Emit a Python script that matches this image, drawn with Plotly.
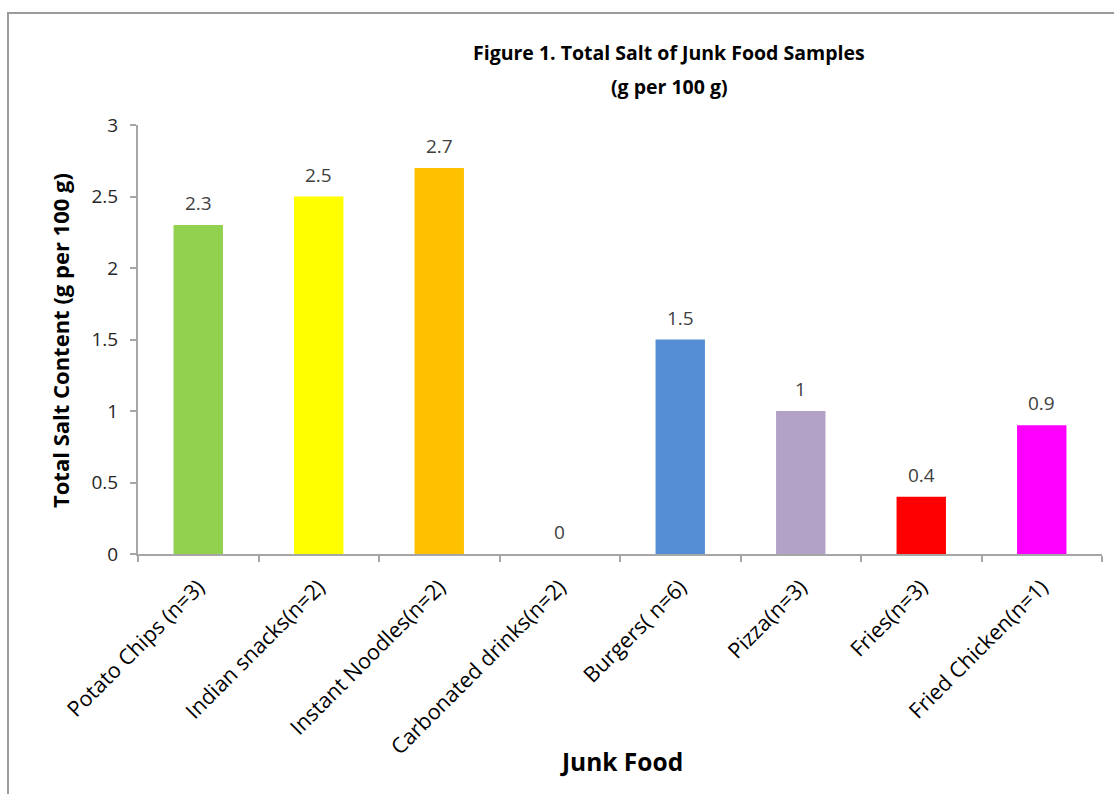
import plotly.graph_objects as go

# Junk food categories and their mean total salt content
foods = [
    "Potato Chips (n=3)",
    "Indian snacks(n=2)",
    "Instant Noodles(n=2)",
    "Carbonated drinks(n=2)",
    "Burgers( n=6)",
    "Pizza(n=3)",
    "Fries(n=3)",
    "Fried Chicken(n=1)",
]
salt = [2.3, 2.5, 2.7, 0, 1.5, 1, 0.4, 0.9]
bar_colors = ["#92D050", "#FFFF00", "#FFC000", "#4F81BD",
              "#558ED5", "#B3A2C7", "#FF0000", "#FF00FF"]

y_ticks = [0, 0.5, 1, 1.5, 2, 2.5, 3]
y_tick_text = ["0", "0.5", "1", "1.5", "2", "2.5", "3"]

title_lines = ["Figure 1. Total Salt of Junk Food Samples", "(g per 100 g)"]
y_title = "Total Salt Content (g per 100 g)"
x_title = "Junk Food"

FONT = "'Open Sans', Lato, sans-serif"

W, H = 1114, 794
L, R, T, B = 138, 12, 125, 240
pw, ph = W - L - R, H - T - B


def px_x(x):
    return (x - L) / pw


def px_y(y):
    return (H - B - y) / ph


fig = go.Figure(
    go.Bar(
        x=foods,
        y=salt,
        marker=dict(color=bar_colors, line=dict(width=0)),
        hoverinfo="x+y",
    )
)

# value labels above each bar
for name, val in zip(foods, salt):
    fig.add_annotation(
        x=name, y=val, xref="x", yref="y",
        text=f"{val:g}", showarrow=False,
        yanchor="bottom", yshift=7,
        font=dict(family=FONT, size=19, color="#404040"),
    )

# two-line chart title
for text, ypos in zip(title_lines, [52, 86]):
    fig.add_annotation(
        x=px_x(669), y=px_y(ypos), xref="paper", yref="paper", showarrow=False,
        text=f"<b>{text}</b>",
        font=dict(family=FONT, size=19.5, color="#000000"),
        xanchor="center", yanchor="middle",
    )

# axis titles
fig.add_annotation(
    x=px_x(60), y=px_y(341), xref="paper", yref="paper", showarrow=False,
    text=f"<b>{y_title}</b>", textangle=-90,
    font=dict(family=FONT, size=22, color="#000000"),
    xanchor="center", yanchor="middle",
)
fig.add_annotation(
    x=px_x(621), y=px_y(761), xref="paper", yref="paper", showarrow=False,
    text=f"<b>{x_title}</b>",
    font=dict(family=FONT, size=24.5, color="#000000"),
    xanchor="center", yanchor="middle",
)

# outer chart frame
fig.add_shape(
    type="rect", xref="paper", yref="paper",
    x0=px_x(8), x1=px_x(1140), y0=px_y(820), y1=px_y(13),
    line=dict(color="#9A9A9A", width=2), layer="below",
)

fig.update_layout(
    width=W, height=H,
    margin=dict(l=L, r=R, t=T, b=B),
    paper_bgcolor="#FFFFFF",
    plot_bgcolor="#FFFFFF",
    showlegend=False,
    bargap=0.59,
    font=dict(family=FONT, size=17, color="#000000"),
)

fig.update_xaxes(
    tickangle=-45,
    showline=True, linecolor="#A6A6A6", linewidth=2,
    ticks="outside", ticklen=6, tickcolor="#A6A6A6", tickwidth=1.5,
    tickson="boundaries",
    showgrid=False, zeroline=False,
    tickfont=dict(family=FONT, size=21.5, color="#000000"),
    ticklabelstandoff=10,
)

fig.update_yaxes(
    range=[0, 3],
    tickvals=y_ticks, ticktext=y_tick_text,
    showline=True, linecolor="#A6A6A6", linewidth=2,
    ticks="outside", ticklen=6, tickcolor="#A6A6A6", tickwidth=1.5,
    showgrid=False, zeroline=False,
    tickfont=dict(family=FONT, size=19, color="#262626"),
    ticklabelstandoff=8,
)

fig.write_html("out.html")
